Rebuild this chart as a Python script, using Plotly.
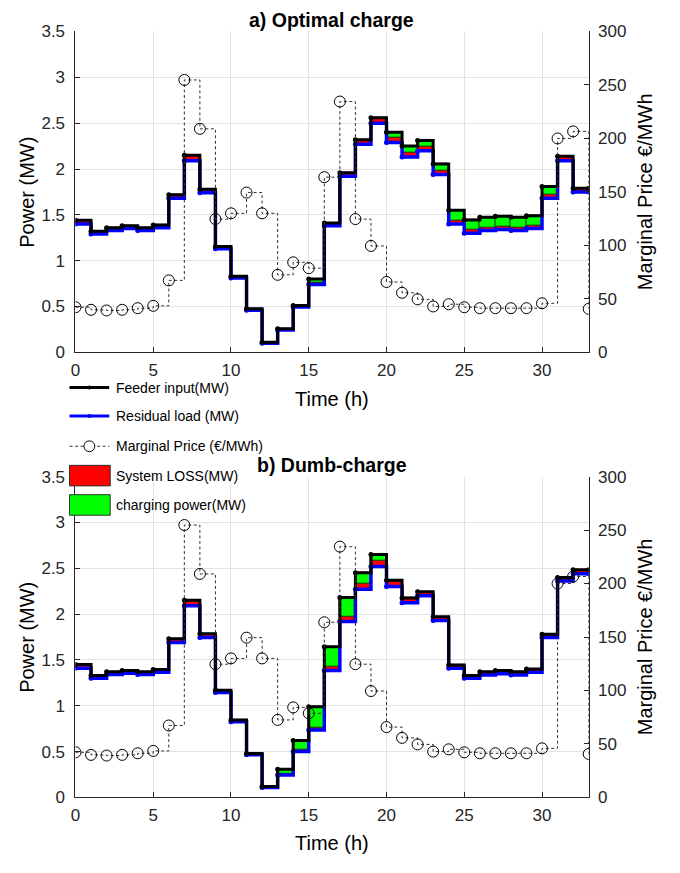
import plotly.graph_objects as go

# ---------------- data ----------------
hours = list(range(33))              # step start hours 0..32
price_hours = list(range(34))        # price markers 0..33

price = [42.2, 39.8, 39.2, 39.8, 41.3, 43.5, 67.3, 254.7, 209, 124.6,
         130, 149.4, 130, 72.5, 84.2, 78.7, 163.8, 234.5, 124.6, 99.5,
         65.8, 55.7, 49.6, 42.9, 45, 42.2, 41.3, 41.3, 41.3, 41.3,
         45.9, 200, 206.6, 40.7]

# a) Optimal charge
resid_a = [1.40, 1.29, 1.33, 1.35, 1.33, 1.36, 1.68, 2.09, 1.74, 1.13,
           0.81, 0.46, 0.10, 0.245, 0.495, 0.74, 1.38, 1.92, 2.27, 2.50,
           2.29, 2.13, 2.20, 1.94, 1.40, 1.30, 1.33, 1.34, 1.33, 1.35,
           1.68, 2.09, 1.75]
loss_a = [0.04, 0.03, 0.03, 0.03, 0.03, 0.03, 0.04, 0.06, 0.04, 0.025,
          0.02, 0.015, 0.01, 0.012, 0.015, 0.02, 0.03, 0.04, 0.05, 0.06,
          0.05, 0.05, 0.05, 0.045, 0.04, 0.035, 0.035, 0.035, 0.035, 0.035,
          0.04, 0.05, 0.04]
charge_a = [0, 0, 0, 0, 0, 0, 0, 0, 0, 0,
            0, 0, 0, 0, 0, 0.04, 0, 0, 0, 0,
            0.06, 0.07, 0.06, 0.07, 0.11, 0.11, 0.11, 0.11, 0.11, 0.105,
            0.09, 0, 0]

# b) Dumb-charge
resid_b = [1.41, 1.30, 1.34, 1.355, 1.34, 1.365, 1.69, 2.09, 1.745, 1.145,
           0.825, 0.465, 0.11, 0.245, 0.50, 0.735, 1.385, 1.92, 2.27, 2.52,
           2.30, 2.125, 2.20, 1.93, 1.41, 1.30, 1.335, 1.35, 1.335, 1.365,
           1.745, 2.36, 2.44]
loss_b = [0.04, 0.03, 0.03, 0.03, 0.03, 0.03, 0.04, 0.06, 0.04, 0.025,
          0.02, 0.015, 0.01, 0.012, 0.02, 0.025, 0.04, 0.05, 0.06, 0.06,
          0.05, 0.04, 0.045, 0.04, 0.035, 0.03, 0.035, 0.035, 0.035, 0.035,
          0.035, 0.04, 0.045]
charge_b = [0, 0, 0, 0, 0, 0, 0, 0, 0, 0,
            0, 0, 0, 0.05, 0.10, 0.23, 0.22, 0.21, 0.12, 0.07,
            0.02, 0.01, 0, 0, 0, 0, 0, 0, 0, 0,
            0, 0, 0]

x_ticks = [0, 5, 10, 15, 20, 25, 30]

# ---------------- figure ----------------
W, H = 680, 873
FONT = "Liberation Sans, Arial, sans-serif"
fig = go.Figure()


def px(x):
    return x / W


def py(y):
    return 1 - y / H


def add_panel(xa, ya, ya2, resid, loss, charge):
    base2 = [r + l for r, l in zip(resid, loss)]
    feeder = [b + c for b, c in zip(base2, charge)]
    # loss bars
    fig.add_trace(go.Bar(x=[h + 0.5 for h in hours], y=loss, base=resid, width=1,
                         marker=dict(color="#ff0000", line=dict(color="#300", width=0.6)),
                         xaxis=xa, yaxis=ya, showlegend=False, hoverinfo="skip"))
    # charging bars (only non zero)
    cx = [h + 0.5 for h, c in zip(hours, charge) if c > 0]
    cy = [c for c in charge if c > 0]
    cb = [b for b, c in zip(base2, charge) if c > 0]
    fig.add_trace(go.Bar(x=cx, y=cy, base=cb, width=1,
                         marker=dict(color="#00ff00", line=dict(color="#030", width=0.8)),
                         xaxis=xa, yaxis=ya, showlegend=False, hoverinfo="skip"))
    xs = hours + [hours[-1] + 1]
    fig.add_trace(go.Scatter(x=xs, y=resid + [resid[-1]], mode="lines+markers",
                             line=dict(color="#0000ff", width=3.5, shape="hv"),
                             marker=dict(size=5, color="#0000ff"),
                             xaxis=xa, yaxis=ya, showlegend=False))
    fig.add_trace(go.Scatter(x=xs, y=feeder + [feeder[-1]], mode="lines+markers",
                             line=dict(color="#000000", width=3, shape="hv"),
                             marker=dict(size=5, color="#000000"),
                             xaxis=xa, yaxis=ya, showlegend=False))
    fig.add_trace(go.Scatter(x=price_hours, y=price, mode="lines+markers",
                             line=dict(color="#333333", width=1, dash="3px,2.5px", shape="hv"),
                             marker=dict(symbol="circle-open", size=11, color="#000000",
                                         line=dict(width=1, color="#000000")),
                             xaxis=xa, yaxis=ya2, showlegend=False))


add_panel("x", "y", "y2", resid_a, loss_a, charge_a)
add_panel("x2", "y3", "y4", resid_b, loss_b, charge_b)

xdom = [px(71), px(588)]
top_dom = [py(351), py(23)]
bot_dom = [py(806), py(478)]

tickfont = dict(family=FONT, size=17, color="#262626")
grid = "#e3e3e3"


def xaxis_cfg(anchor):
    return dict(domain=xdom, anchor=anchor, range=[0, 33], tickvals=x_ticks,
                showgrid=True, gridcolor=grid, showline=True, linecolor="#262626",
                linewidth=1, ticks="inside", ticklen=5, tickcolor="#262626",
                tickfont=tickfont, zeroline=False, ticklabelstandoff=2)


def yaxis_cfg(dom, anchor):
    return dict(domain=dom, anchor=anchor, range=[0, 3.5], dtick=0.5,
                showgrid=True, gridcolor=grid, showline=True, linecolor="#262626",
                linewidth=1, ticks="inside", ticklen=5, tickcolor="#262626",
                tickfont=tickfont, zeroline=False, ticklabelstandoff=6)


def yaxis2_cfg(overlay, anchor):
    return dict(overlaying=overlay, anchor=anchor, side="right", range=[0, 300], dtick=50,
                showgrid=False, showline=True, linecolor="#262626", linewidth=1,
                ticks="inside", ticklen=5, tickcolor="#262626", tickfont=tickfont,
                zeroline=False, ticklabelstandoff=5)


fig.update_layout(
    width=W, height=H, margin=dict(l=0, r=0, t=0, b=0),
    paper_bgcolor="white", plot_bgcolor="white",
    barmode="overlay", bargap=0,
    showlegend=False,
    font=dict(family=FONT),
    xaxis=xaxis_cfg("y"),
    yaxis=yaxis_cfg(top_dom, "x"),
    yaxis2=yaxis2_cfg("y", "x"),
    xaxis2=xaxis_cfg("y3"),
    yaxis3=yaxis_cfg(bot_dom, "x2"),
    yaxis4=yaxis2_cfg("y3", "x2"),
)

ann = []
titlefont = dict(family=FONT, size=19.5, color="#000000")
labfont = dict(family=FONT, size=20, color="#000000")
# panel titles
ann.append(dict(text="<b>a) Optimal charge</b>", x=px(329), y=py(11), xref="paper", yref="paper",
                showarrow=False, font=titlefont, xanchor="center", yanchor="middle"))
ann.append(dict(text="<b>b) Dumb-charge</b>", x=px(329), y=py(466), xref="paper", yref="paper",
                showarrow=False, font=titlefont, xanchor="center", yanchor="middle"))
for cy in (187, 642):
    ann.append(dict(text="Power (MW)", x=px(22), y=py(cy), xref="paper", yref="paper",
                    showarrow=False, textangle=-90, font=labfont,
                    xanchor="center", yanchor="middle"))
    ann.append(dict(text="Marginal Price €/MWh", x=px(645), y=py(cy), xref="paper", yref="paper",
                    showarrow=False, textangle=-90, font=labfont,
                    xanchor="center", yanchor="middle"))
for ty in (399, 853):
    ann.append(dict(text="Time (h)", x=px(329), y=py(ty), xref="paper", yref="paper",
                    showarrow=False, font=labfont, xanchor="center", yanchor="middle"))

# manual legend
shapes = []
legfont = dict(family=FONT, size=14, color="#000000")
leg_rows = [
    ("line", "#000000", "Feeder input(MW)", 387),
    ("line", "#0000ff", "Residual load (MW)", 416),
    ("price", "#333333", "Marginal Price (€/MWh)", 447),
    ("rect", "#ff0000", "System LOSS(MW)", 477),
    ("rect", "#00ff00", "charging power(MW)", 507),
]
for kind, col, label, yc in leg_rows:
    if kind == "line":
        shapes.append(dict(type="line", xref="paper", yref="paper", x0=px(65), x1=px(105),
                           y0=py(yc), y1=py(yc), line=dict(color=col, width=3)))
        shapes.append(dict(type="circle", xref="paper", yref="paper", x0=px(83), x1=px(87),
                           y0=py(yc + 2), y1=py(yc - 2), fillcolor=col, line=dict(color=col, width=0)))
    elif kind == "price":
        shapes.append(dict(type="line", xref="paper", yref="paper", x0=px(65), x1=px(105),
                           y0=py(yc), y1=py(yc), line=dict(color=col, width=1, dash="3px,2.5px")))
        shapes.append(dict(type="circle", xref="paper", yref="paper", x0=px(79.5), x1=px(90.5),
                           y0=py(yc + 5.5), y1=py(yc - 5.5), fillcolor="white",
                           line=dict(color="#000000", width=1)))
    else:
        shapes.append(dict(type="rect", xref="paper", yref="paper", x0=px(65), x1=px(106),
                           y0=py(yc + 10.5), y1=py(yc - 10.5), fillcolor=col,
                           line=dict(color="#303030", width=1)))
    ann.append(dict(text=label, x=px(110), y=py(yc), xref="paper", yref="paper",
                    showarrow=False, font=legfont, xanchor="left", yanchor="middle"))

fig.update_layout(annotations=ann, shapes=shapes)
fig.write_html("out.html")
